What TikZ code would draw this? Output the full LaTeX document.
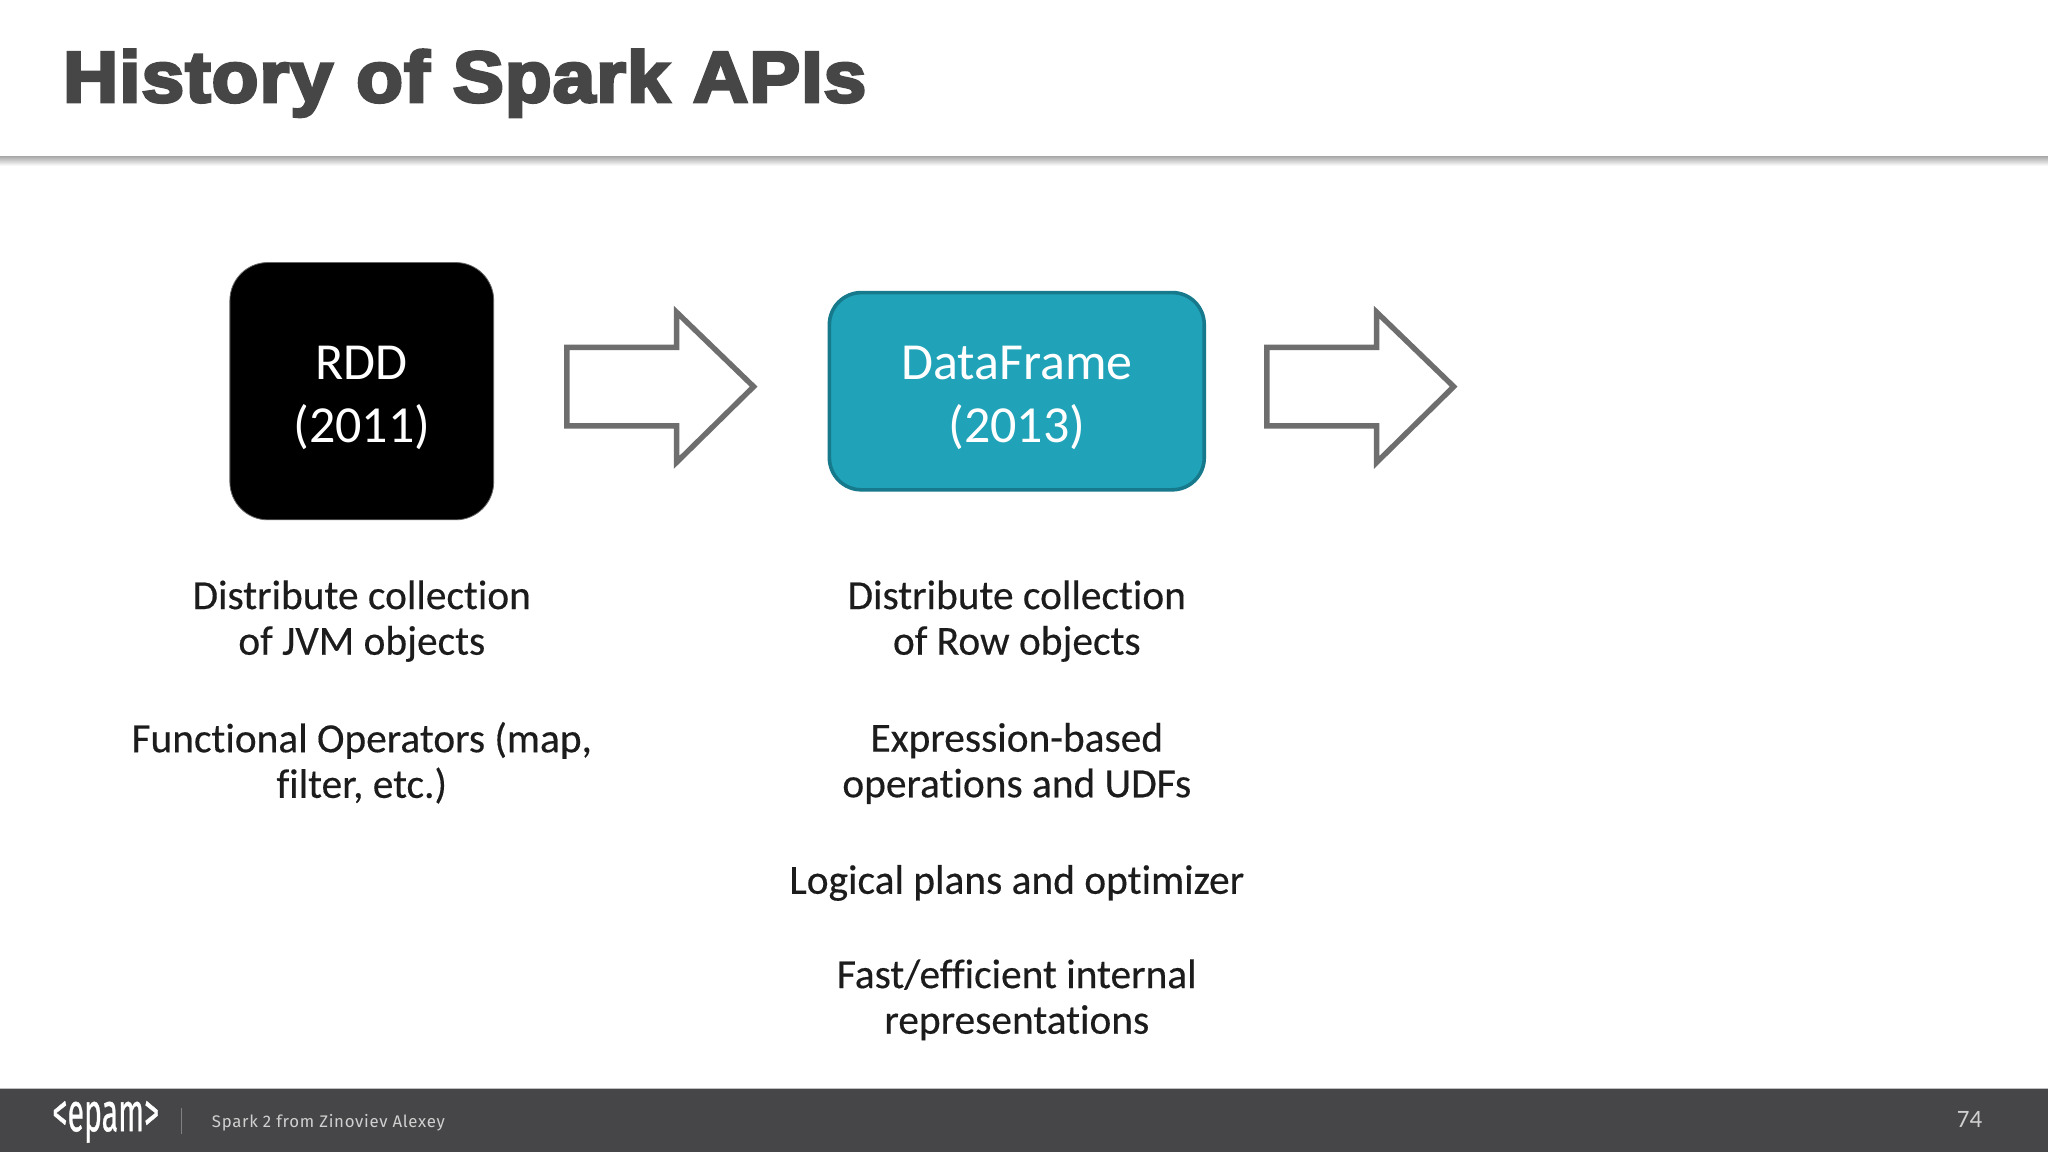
\documentclass[tikz,border=0pt]{standalone}
\usepackage{fontspec}
\setmainfont[Ligatures=NoCommon]{Carlito}
\newfontfamily\bodyfont[Ligatures=NoCommon,FakeBold=0.35]{Carlito}
\newfontfamily\titlefont[FakeBold=4.2,LetterSpace=1.5,WordSpace=1.05]{Liberation Sans Bold}
\newfontfamily\footfont[LetterSpace=4]{Fira Sans}
\newfontfamily\logofont[FakeBold=0.8]{Fira Sans}
\definecolor{ink}{HTML}{1C1C1C}
\definecolor{titlegray}{HTML}{464646}
\definecolor{footbg}{HTML}{464547}
\definecolor{footfg}{HTML}{D0D0D0}
\definecolor{arrowgray}{HTML}{6E6E6E}
\definecolor{tealfill}{HTML}{20A3B8}
\definecolor{tealedge}{HTML}{17798C}
\tikzset{
  x=0.6531pt,y=-0.6531pt,
  body/.style={align=center,text=ink,font=\fontsize{20.7}{22.8}\bodyfont,inner sep=0pt},
  boxtext/.style={align=center,text=white,font=\fontsize{26}{31.3}\selectfont,inner sep=0pt},
  blockarrow/.style={draw=arrowgray,line width=2.7pt,fill=white,line join=miter},
}
\begin{document}
\begin{tikzpicture}
\useasboundingbox (0,0) rectangle (1568,882);
\fill[white] (0,0) rectangle (1568,882);
% header rule with soft shadow
\shade[top color=black!32,bottom color=white] (0,120) rectangle (1568,127);
\node[anchor=base west,inner sep=0pt,text=titlegray,font=\fontsize{36}{40}\titlefont,xscale=1.06] (title) at (48,78) {History of Spark APIs};
% boxes
\draw[fill=black,draw=black!60,line width=0.4pt,rounded corners=19pt] (176,201) rectangle (378,398);
\node[boxtext] (rdd) at (277,304.5) {RDD\\(2011)};
\draw[fill=tealfill,draw=tealedge,line width=1.8pt,rounded corners=16pt] (635,224) rectangle (922,375);
\node[boxtext] (df) at (778.5,304.5) {DataFrame\\(2013)};
% block arrows
\draw[blockarrow] (434,266) -- (518,266) -- (518,239) -- (577,296) -- (518,354) -- (518,326) -- (434,326) -- cycle;
\draw[blockarrow] (970,266) -- (1054,266) -- (1054,239) -- (1113,296) -- (1054,354) -- (1054,326) -- (970,326) -- cycle;
% texts
\node[body] (t1) at (277,475.5) {Distribute collection\\of JVM objects};
\node[body] (t2) at (277,584) {Functional Operators (map,\\filter, etc.)};
\node[body] (t3) at (778.5,475.5) {Distribute collection\\of Row objects};
\node[body] (t4) at (778.5,584.5) {Expression-based\\operations and UDFs};
\node[body] (t5) at (778.5,676) {Logical plans and optimizer};
\node[body] (t6) at (778.5,765.5) {Fast/efficient internal\\representations};
% footer
\fill[footbg] (0,833) rectangle (1568,882);
\draw[black!25,line width=0.4pt] (0,833) -- (1568,833);
\node[inner sep=0pt,text=white,font=\fontsize{24}{26}\logofont,xscale=0.63,yscale=1.14] (logo) at (81,859) {<epam>};
\draw[gray,line width=0.5pt] (139,848) -- (139,868);
\node[anchor=base west,inner sep=0pt,text=footfg,font=\fontsize{8.4}{10}\footfont] (foot) at (162,863) {Spark 2 from Zinoviev Alexey};
\node[inner sep=0pt,anchor=base,text=footfg,font=\fontsize{12.5}{14}\selectfont] (page) at (1508,863) {74};
\end{tikzpicture}
\end{document}
